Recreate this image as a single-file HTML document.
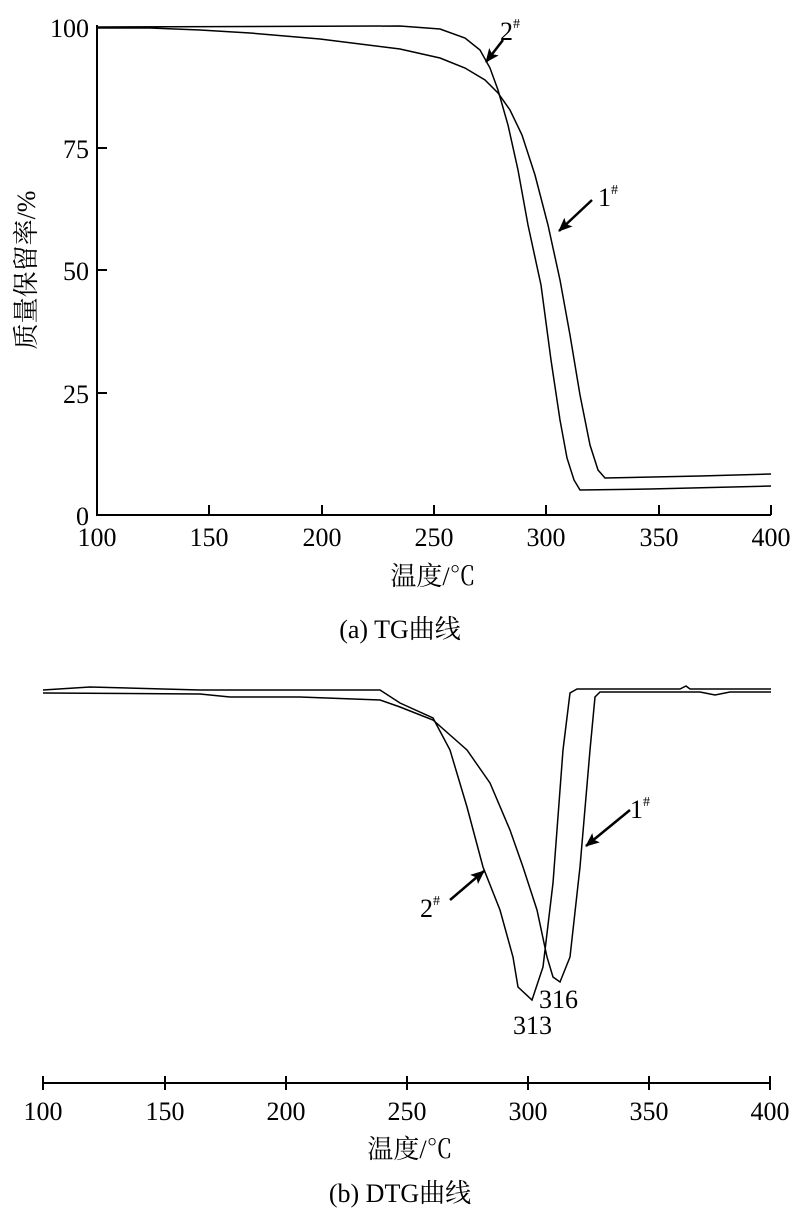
<!DOCTYPE html>
<html><head><meta charset="utf-8"><style>
html,body{margin:0;padding:0;background:#fff}
svg{display:block}
text{font-family:"Liberation Serif","Noto Serif CJK SC",serif;fill:#000}
</style></head><body>
<svg width="800" height="1217" viewBox="0 0 800 1217" xmlns="http://www.w3.org/2000/svg">
<defs>
<marker id="a2" markerWidth="14" markerHeight="12" refX="13" refY="6" orient="auto" markerUnits="userSpaceOnUse"><path d="M0,0 L14,6 L0,12 L3,6 z" fill="#000"/></marker></defs>
<g stroke="#000" stroke-width="2" fill="none">
<path d="M97,25 V515 H771"/>
<path d="M97,148 h10 M97,270 h10 M97,393 h10"/>
<path d="M209,515 v-10 M322,515 v-10 M434,515 v-10 M546,515 v-10 M659,515 v-10 M771,515 v-10"/>
</g>
<g font-size="26" text-anchor="end">
<text x="89" y="37">100</text><text x="89" y="158">75</text><text x="89" y="280">50</text><text x="89" y="403">25</text><text x="89" y="525">0</text>
</g>
<g font-size="26" text-anchor="middle">
<text x="97" y="546">100</text><text x="209" y="546">150</text><text x="322" y="546">200</text><text x="434" y="546">250</text><text x="546" y="546">300</text><text x="659" y="546">350</text><text x="771" y="546">400</text>
<text x="433" y="585">温度/℃</text>
<text x="400" y="638">(a)  TG曲线</text>
</g>
<text font-size="26" transform="translate(35,270) rotate(-90)" text-anchor="middle">质量保留率/%</text>
<g stroke="#000" stroke-width="1.5" fill="none">
<path d="M97,27 L400,26 L440,29 L465,38 L480,50 L490,68 L498,90 L508,125 L518,170 L528,225 L541,285 L551,360 L560,420 L567,458 L574,480 L580,490 L650,489 L771,486"/>
<path d="M97,28 L150,28 L200,30 L250,33 L320,39 L400,49 L440,58 L465,68 L485,80 L498,93 L510,110 L522,135 L535,175 L548,225 L560,280 L570,335 L580,395 L590,445 L598,470 L605,478 L700,476 L771,474"/>
</g>
<g stroke="#000" stroke-width="2.5">
<line x1="503" y1="40" x2="486" y2="62" marker-end="url(#a2)"/>
<line x1="592" y1="200" x2="559" y2="231" marker-end="url(#a2)"/>
</g>
<text x="500" y="40" font-size="26">2<tspan font-size="14" dy="-12">#</tspan></text>
<text x="598" y="206" font-size="26">1<tspan font-size="14" dy="-12">#</tspan></text>

<g stroke="#000" stroke-width="2" fill="none">
<path d="M43,1083 H771"/>
<path d="M43,1076 v14 M165,1076 v14 M286,1076 v14 M407,1076 v14 M528,1076 v14 M649,1076 v14 M770,1076 v14"/>
</g>
<g font-size="26" text-anchor="middle">
<text x="43" y="1120">100</text><text x="165" y="1120">150</text><text x="286" y="1120">200</text><text x="407" y="1120">250</text><text x="528" y="1120">300</text><text x="649" y="1120">350</text><text x="770" y="1120">400</text>
<text x="410" y="1158">温度/℃</text>
<text x="400" y="1202">(b)  DTG曲线</text>
</g>
<g stroke="#000" stroke-width="1.5" fill="none">
<path d="M43,690 L90,687 L200,690 L380,690 L400,703 L433,718 L450,750 L467,807 L483,867 L500,910 L513,957 L518,987 L532,1000 L543,967 L553,883 L563,750 L570,693 L577,689 L680,689 L686,686 L690,689 L771,689"/>
<path d="M43,693 L200,694 L230,697 L300,697 L380,700 L400,707 L433,720 L467,750 L490,783 L510,830 L523,867 L537,910 L547,957 L553,977 L560,982 L570,957 L580,867 L590,750 L595,697 L600,692 L700,692 L715,695 L730,692 L771,692"/>
</g>
<g stroke="#000" stroke-width="2.5">
<line x1="450" y1="900" x2="484" y2="871" marker-end="url(#a2)"/>
<line x1="630" y1="810" x2="586" y2="846" marker-end="url(#a2)"/>
</g>
<text x="420" y="917" font-size="26">2<tspan font-size="14" dy="-12">#</tspan></text>
<text x="630" y="818" font-size="26">1<tspan font-size="14" dy="-12">#</tspan></text>
<text x="513" y="1034" font-size="26">313</text>
<text x="539" y="1008" font-size="26">316</text>
</svg>
</body></html>
